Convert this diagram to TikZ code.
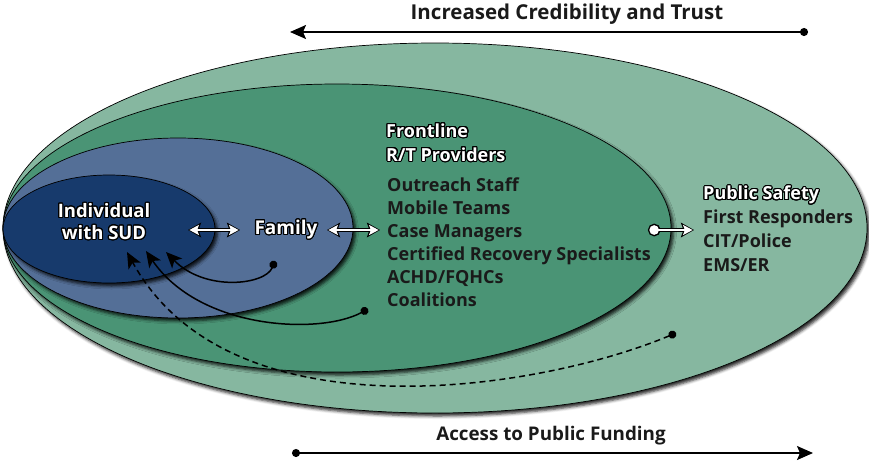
\documentclass[tikz,border=0pt]{standalone}
\usepackage{fontspec}
\setmainfont{Open Sans}
\usepackage{xcolor}
\usepackage{contour}
\contourlength{1.1pt}
\contournumber{24}
\usetikzlibrary{arrows.meta,positioning,shapes.geometric,shadows.blur}

\definecolor{outergreen}{RGB}{134,183,160}
\definecolor{frontgreen}{RGB}{74,148,117}
\definecolor{familyblue}{RGB}{84,111,151}
\definecolor{indivblue}{RGB}{23,58,108}
\definecolor{listink}{RGB}{26,26,26}

% white lettering with a black rim
\newcommand{\ringtext}[1]{\textcolor{white}{\contour{black}{#1}}}

\tikzset{
  ring/.style={ellipse, draw=black, line width=0.7pt, inner sep=0pt,
    blur shadow={shadow xshift=2.5pt, shadow yshift=-3pt, shadow blur radius=3pt, shadow opacity=85}},
  label/.style={font=\bfseries\fontsize{18}{23}\selectfont, inner sep=0pt},
  whitelink/.style={white, line width=2pt, shorten <=1.4pt, shorten >=1.4pt,
    preaction={draw=black, line width=4.4pt, shorten <=0pt, shorten >=0pt, #1}},
  curvelink/.style={black, line width=1.5pt, {Circle[length=8pt]}-{Stealth[length=16pt,width=14pt,inset=4pt]}},
  trendlink/.style={black, line width=1.6pt, {Circle[length=8pt]}-{Stealth[length=16pt,width=14pt,inset=3pt]}}
}

\begin{document}
\begin{tikzpicture}[x=1pt, y=-1pt]
    \useasboundingbox (0,0) rectangle (869,466);

    % Nested circles of support
    \node[ring, fill=outergreen, minimum width=864pt, minimum height=370pt] (outring) at (435,228) {};
    \node[ring, fill=frontgreen, minimum width=668pt, minimum height=288pt] (frontring) at (337,228) {};
    \node[ring, fill=familyblue, minimum width=350pt, minimum height=180pt] (famring) at (178,228) {};
    \node[ring, fill=indivblue, minimum width=212pt, minimum height=108pt] (indring) at (109,229) {};

    % Circle labels
    \node[label, align=center, font=\bfseries\fontsize{18.5}{22}\selectfont] (indiv) at (104,222) {\ringtext{Individual}\\\ringtext{with SUD}};
    \node[label, font=\bfseries\fontsize{19}{23}\selectfont] (family) at (286,230) {\ringtext{Family}};
    \node[label, anchor=west, align=left, font=\bfseries\fontsize{18}{24}\selectfont] (frontline) at (386,143) {\ringtext{Frontline}\\\ringtext{R/T Providers}};
    \node[label, anchor=west, align=left, text=listink] (providers) at (387,242)
        {Outreach Staff\\Mobile Teams\\Case Managers\\Certified Recovery Specialists\\ACHD/FQHCs\\Coalitions};
    \node[label, anchor=west, align=left, text=listink, font=\bfseries\fontsize{18}{24}\selectfont] (safety) at (703,229)
        {\ringtext{Public Safety}\\First Responders\\CIT/Police\\EMS/ER};

    % Trend arrows above and below
    \node[label, text=listink, font=\bfseries\fontsize{20.5}{23}\selectfont] (trust) at (567,14) {Increased Credibility and Trust};
    \node[label, text=listink, font=\bfseries\fontsize{18.8}{23}\selectfont] (funding) at (551,436) {Access to Public Funding};
    \coordinate (truststart) at (808,32);
    \coordinate (trustend) at (290,32);
    \coordinate (fundstart) at (292,453);
    \coordinate (fundend) at (813,453);
    \draw[trendlink] (truststart) -- (trustend);
    \draw[trendlink] (fundstart) -- (fundend);

    % Two-way links between the inner circles
    \coordinate (indtip) at (188,230);
    \coordinate (famtipL) at (240,230);
    \coordinate (famtipR) at (327,230);
    \coordinate (fronttip) at (380,230);
    \coordinate (frontdot) at (648,230);
    \coordinate (safetytip) at (694,230);
    \draw[whitelink={{Stealth[length=13pt,width=14.5pt,inset=2.5pt]}-{Stealth[length=13pt,width=14.5pt,inset=2.5pt]}},
          {Stealth[length=9.5pt,width=10pt,inset=1.8pt]}-{Stealth[length=9.5pt,width=10pt,inset=1.8pt]}] (indtip) -- (famtipL);
    \draw[whitelink={{Stealth[length=13pt,width=14.5pt,inset=2.5pt]}-{Stealth[length=13pt,width=14.5pt,inset=2.5pt]}},
          {Stealth[length=9.5pt,width=10pt,inset=1.8pt]}-{Stealth[length=9.5pt,width=10pt,inset=1.8pt]}] (famtipR) -- (fronttip);
    \draw[whitelink={{Circle[length=12.5pt]}-{Stealth[length=13pt,width=14.5pt,inset=2.5pt]}},
          {Circle[length=9.5pt]}-{Stealth[length=9.5pt,width=10pt,inset=1.8pt]}] (frontdot) -- (safetytip);

    % Support flowing back to the individual
    \coordinate (famdot) at (275,261);
    \coordinate (coaldot) at (368,309);
    \coordinate (safedot) at (676,333);
    \coordinate (tipA) at (166,252);
    \coordinate (tipB) at (146,251);
    \coordinate (tipC) at (127,252);
    \draw[curvelink] (famdot) .. controls (265,285) and (205,292) .. (tipA);
    \draw[curvelink] (coaldot) .. controls (320,335) and (200,330) .. (tipB);
    \draw[curvelink, dashed, dash pattern=on 6pt off 4pt] (safedot) .. controls (540,390) and (230,440) .. (tipC);
\end{tikzpicture}
\end{document}
